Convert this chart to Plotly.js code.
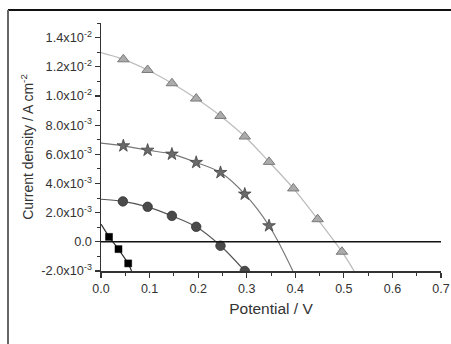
<!DOCTYPE html>
<html>
<head>
<meta charset="utf-8">
<script src="https://cdn.plot.ly/plotly-3.0.1.min.js"></script>
<style>
html,body{margin:0;padding:0;background:#fff;}
#chart{width:451px;height:344px;}
</style>
</head>
<body>
<div id="chart"></div>
<script>
// Triangle series (curve + markers)
const triLineX = [0, 0.046, 0.096, 0.146, 0.196, 0.246, 0.296, 0.346, 0.396, 0.446, 0.496, 0.521];
const triLineY = [0.01297, 0.01251, 0.01178, 0.01087, 0.00982, 0.00863, 0.00722, 0.00548, 0.00366, 0.00155, -0.00068, -0.0020];
const triMarkX = [0.046, 0.096, 0.146, 0.196, 0.246, 0.296, 0.346, 0.396, 0.446, 0.496];
const triMarkY = [0.01251, 0.01178, 0.01087, 0.00982, 0.00863, 0.00722, 0.00548, 0.00366, 0.00155, -0.00068];

// Star series
const starLineX = [0, 0.046, 0.096, 0.146, 0.196, 0.246, 0.296, 0.346, 0.395];
const starLineY = [0.00676, 0.00658, 0.00628, 0.00601, 0.00544, 0.00475, 0.00327, 0.00110, -0.0020];
const starMarkX = [0.046, 0.096, 0.146, 0.196, 0.246, 0.296, 0.346];
const starMarkY = [0.00658, 0.00628, 0.00601, 0.00544, 0.00475, 0.00327, 0.00110];

// Circle series
const circLineX = [0, 0.045, 0.096, 0.146, 0.196, 0.246, 0.296];
const circLineY = [0.00292, 0.00277, 0.00240, 0.00178, 0.00103, -0.00027, -0.0020];
const circMarkX = [0.045, 0.096, 0.146, 0.196, 0.246, 0.296];
const circMarkY = [0.00277, 0.00240, 0.00178, 0.00103, -0.00027, -0.0020];

// Square series
const sqLineX = [0, 0.0165, 0.036, 0.056, 0.063];
const sqLineY = [0.00121, 0.00034, -0.00050, -0.00148, -0.0020];
const sqMarkX = [0.0165, 0.036, 0.056];
const sqMarkY = [0.00034, -0.00050, -0.00148];

// Axis ticks
const yTickVals = [-0.002, 0, 0.002, 0.004, 0.006, 0.008, 0.010, 0.012, 0.014];
const yTickText = ['-2.0x10<sup>-3</sup>', '0.0', '2.0x10<sup>-3</sup>', '4.0x10<sup>-3</sup>', '6.0x10<sup>-3</sup>', '8.0x10<sup>-3</sup>', '1.0x10<sup>-2</sup>', '1.2x10<sup>-2</sup>', '1.4x10<sup>-2</sup>'];
const xTickVals = [0, 0.1, 0.2, 0.3, 0.4, 0.5, 0.6, 0.7];
const xTickText = ['0.0', '0.1', '0.2', '0.3', '0.4', '0.5', '0.6', '0.7'];

const traces = [
  {x: triLineX, y: triLineY, mode: 'lines', line: {color: '#bdbdbd', width: 1.3, shape: 'spline'}, hoverinfo: 'skip'},
  {x: triMarkX, y: triMarkY, mode: 'markers', marker: {symbol: 'triangle-up', size: 10, color: '#ababab', line: {color: '#7a7a7a', width: 1}}},
  {x: starLineX, y: starLineY, mode: 'lines', line: {color: '#777', width: 1.2, shape: 'spline'}, hoverinfo: 'skip'},
  {x: starMarkX, y: starMarkY, mode: 'markers', marker: {symbol: 'star', size: 9.5, color: '#6a6a6a', line: {color: '#444', width: 0.8}}},
  {x: circLineX, y: circLineY, mode: 'lines', line: {color: '#555', width: 1.2, shape: 'spline'}, hoverinfo: 'skip'},
  {x: circMarkX, y: circMarkY, mode: 'markers', marker: {symbol: 'circle', size: 9.5, color: '#4a4a4a', line: {color: '#333', width: 0.8}}},
  {x: sqLineX, y: sqLineY, mode: 'lines', line: {color: '#333', width: 1.2}, hoverinfo: 'skip'},
  {x: sqMarkX, y: sqMarkY, mode: 'markers', marker: {symbol: 'square', size: 7, color: '#000', line: {color: '#000', width: 0.5}}}
];

const pw = 340, ph = 248;
const layout = {
  width: 451, height: 344,
  margin: {l: 101, r: 10, t: 23, b: 73},
  paper_bgcolor: '#fff', plot_bgcolor: '#fff',
  showlegend: false,
  font: {family: 'Liberation Sans, Arial, sans-serif', size: 12, color: '#333'},
  xaxis: {
    range: [0, 0.7], tickmode: 'array', tickvals: xTickVals, ticktext: xTickText,
    showgrid: false, zeroline: false, showline: true, linecolor: '#333', linewidth: 1.5,
    ticks: 'outside', ticklen: 5, tickwidth: 1.2, tickcolor: '#333',
    minor: {dtick: 0.05, tick0: 0, ticks: 'outside', ticklen: 3, tickwidth: 1, tickcolor: '#333', showgrid: false},
    tickfont: {size: 12.5, color: '#333'},
    title: {text: 'Potential / V', font: {size: 15.5, color: '#333'}, standoff: 8}
  },
  yaxis: {
    range: [-0.002, 0.015], tickmode: 'array', tickvals: yTickVals, ticktext: yTickText,
    showgrid: false, zeroline: false, showline: true, linecolor: '#333', linewidth: 1.5,
    ticks: 'outside', ticklen: 5, tickwidth: 1.2, tickcolor: '#333',
    minor: {dtick: 0.001, tick0: 0, ticks: 'outside', ticklen: 3, tickwidth: 1, tickcolor: '#333', showgrid: false},
    tickfont: {size: 12.8, color: '#333'},
    title: {text: 'Current density / A cm<sup>-2</sup>', font: {size: 14, color: '#333'}, standoff: 4}
  },
  shapes: [
    {type: 'line', xref: 'x', yref: 'y', x0: 0, x1: 0.7, y0: 0, y1: 0, line: {color: '#111', width: 1.5}},
    {type: 'line', xref: 'paper', yref: 'paper', x0: (8 - 101) / pw, x1: (460 - 101) / pw, y0: 1 + 13 / ph, y1: 1 + 13 / ph, line: {color: '#111', width: 2}},
    {type: 'line', xref: 'paper', yref: 'paper', x0: (8 - 101) / pw, x1: (8 - 101) / pw, y0: 1 + 13 / ph, y1: (271 - 360) / ph, line: {color: '#666', width: 2}}
  ]
};

Plotly.newPlot('chart', traces, layout, {displayModeBar: false, staticPlot: true});
</script>
</body>
</html>
